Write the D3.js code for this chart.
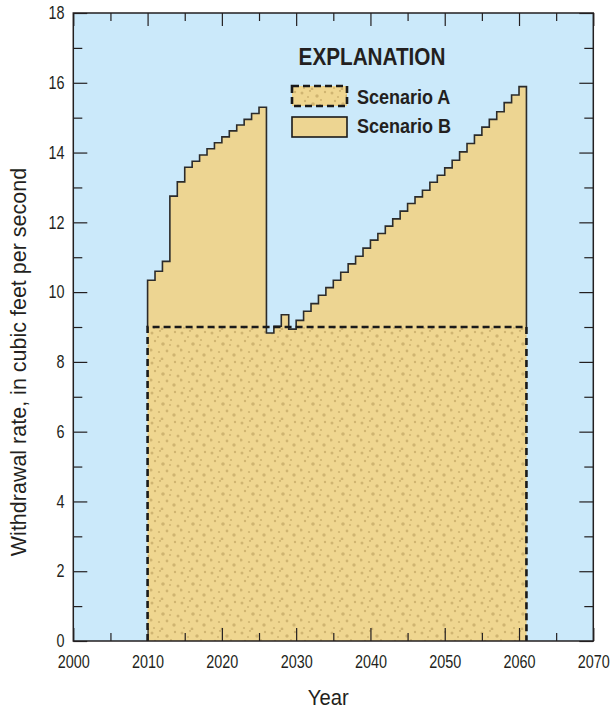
<!DOCTYPE html>
<html>
<head>
<meta charset="utf-8">
<script src="https://cdn.jsdelivr.net/npm/d3@7"></script>
<style>
  body { margin: 0; background: #fff; }
  text { font-family: "Liberation Sans", Arial, sans-serif; fill: #231f20; }
</style>
</head>
<body>
<div class="WithdrawalPlot"></div>
<script>
// scenario B: withdrawal rate for each year (step starts at that year)
const yearsB = d3.range(2010, 2061)
const scenarioB = [
  10.34, 10.6, 10.88, 12.75, 13.16, 13.58, 13.75, 13.93, 14.11, 14.28,
  14.45, 14.62, 14.79, 14.95, 15.12, 15.3,
  8.83, 9.02, 9.35, 8.94, 9.19,
  9.45, 9.67, 9.91, 10.13, 10.34, 10.57, 10.81, 11.03, 11.26, 11.49,
  11.68, 11.89, 12.1, 12.32, 12.54, 12.73, 12.92, 13.15, 13.35, 13.56,
  13.78, 14.02, 14.26, 14.5, 14.73, 14.95, 15.17, 15.43, 15.65, 15.89
]
const endYear = 2061
// scenario A: constant rate
const yearsA = [2010, 2061]
const scenarioA = [9, 9]

const xMajor = [2000, 2010, 2020, 2030, 2040, 2050, 2060, 2070]
const xMinor = [2005, 2015, 2025, 2035, 2045, 2055, 2065]
const yMajor = [0, 2, 4, 6, 8, 10, 12, 14, 16, 18]
const yMinor = [1, 3, 5, 7, 9, 11, 13, 15, 17]
const legendLabels = ["Scenario A", "Scenario B"]

const width = 612
const height = 712
const margin = ({top: 13, right: 18.7, bottom: 71, left: 73.3})

const x = d3.scaleLinear()
  .domain([2000, 2070])
  .range([margin.left, width - margin.right])
const y = d3.scaleLinear()
  .domain([0, 18])
  .range([height - margin.bottom, margin.top])

const sky = "#cbe9fa"
const tan = "#edd592"
const narrow = 0.8 // squeeze text, no condensed font available

const svg = d3.select(".WithdrawalPlot").append("svg")
  .attr("width", width)
  .attr("height", height)
  .attr("viewBox", [0, 0, width, height])

// stipple texture for scenario A
const defs = svg.append("defs")
const pat = defs.append("pattern")
  .attr("id", "stipple")
  .attr("patternUnits", "userSpaceOnUse")
  .attr("width", 30).attr("height", 30)
pat.append("rect").attr("width", 30).attr("height", 30).attr("fill", "#efd690")
const dots = [[2,3,1.5],[10,1,1.1],[17,6,1.7],[25,2,1.2],[5,11,1.2],[13,14,1.8],[21,10,1.1],[28,16,1.5],
  [1,20,1.6],[9,22,1.1],[17,21,1.4],[24,25,1.7],[4,28,1.1],[12,29,1.4],[20,15,1.0],[8,7,1.0]]
pat.selectAll("circle").data(dots).join("circle")
  .attr("cx", d => d[0]).attr("cy", d => d[1]).attr("r", d => d[2])
  .attr("fill", "#b09252").attr("opacity", 0.5)

// background
svg.append("rect")
  .attr("x", x(2000)).attr("y", y(18))
  .attr("width", x(2070) - x(2000)).attr("height", y(0) - y(18))
  .attr("fill", sky)

const pointsB = yearsB.map((d, i) => [d, scenarioB[i]]).concat([[endYear, scenarioB[scenarioB.length - 1]]])

const areaB = d3.area()
  .curve(d3.curveStepAfter)
  .x(d => x(d[0]))
  .y0(y(0))
  .y1(d => y(d[1]))

defs.append("clipPath").attr("id", "clipB")
  .append("path").attr("d", areaB(pointsB))

svg.append("path")
  .attr("d", areaB(pointsB))
  .attr("fill", tan)

// scenario A stippled area, hidden where B dips under it
const pointsA = yearsA.map((d, i) => [d, scenarioA[i]])
svg.append("path")
  .attr("d", areaB(pointsA))
  .attr("fill", "url(#stipple)")
  .attr("clip-path", "url(#clipB)")

// outline of B above A
const base = scenarioA[0]
const lineB = d3.line().curve(d3.curveStepAfter).x(d => x(d[0])).y(d => y(d[1]))
svg.append("path")
  .attr("d", lineB([[yearsB[0], base]].concat(pointsB, [[endYear, base]])))
  .attr("fill", "none")
  .attr("stroke", "#2b2b2b")
  .attr("stroke-width", 1.6)

// dashed outline of A
svg.append("path")
  .attr("d", lineB([[yearsA[0], 0]].concat(pointsA, [[yearsA[1], 0]])))
  .attr("fill", "none")
  .attr("stroke", "#1a1a1a")
  .attr("stroke-width", 2.6)
  .attr("stroke-dasharray", "7,4")

// axes, ticks pointing inward
const axisStyle = g => g.call(g => g.select(".domain").remove())
  .attr("font-size", 18)
  .style("font-size", "18px")
  .attr("font-family", null)
  .call(g => g.selectAll("line").attr("stroke", "#231f20").attr("stroke-width", 1.2))
  .call(g => g.selectAll("text").attr("fill", "#231f20")
    .attr("transform", `scale(${narrow},1)`))

svg.append("g")
  .attr("transform", `translate(0,${y(0)})`)
  .call(d3.axisBottom(x).tickValues(xMajor).tickSize(-13).tickPadding(14).tickFormat(d3.format("d")))
  .call(axisStyle)
svg.append("g")
  .attr("transform", `translate(0,${y(0)})`)
  .call(d3.axisBottom(x).tickValues(xMinor).tickSize(-8).tickFormat(""))
  .call(axisStyle)
svg.append("g")
  .attr("transform", `translate(0,${y(18)})`)
  .call(d3.axisTop(x).tickValues(xMajor).tickSize(-13).tickFormat(""))
  .call(axisStyle)
svg.append("g")
  .attr("transform", `translate(0,${y(18)})`)
  .call(d3.axisTop(x).tickValues(xMinor).tickSize(-8).tickFormat(""))
  .call(axisStyle)

svg.append("g")
  .attr("transform", `translate(${x(2000)},0)`)
  .call(d3.axisLeft(y).tickValues(yMajor).tickSize(-14).tickPadding(11))
  .call(axisStyle)
svg.append("g")
  .attr("transform", `translate(${x(2000)},0)`)
  .call(d3.axisLeft(y).tickValues(yMinor).tickSize(-9).tickFormat(""))
  .call(axisStyle)
svg.append("g")
  .attr("transform", `translate(${x(2070)},0)`)
  .call(d3.axisRight(y).tickValues(yMajor).tickSize(-14).tickFormat(""))
  .call(axisStyle)
svg.append("g")
  .attr("transform", `translate(${x(2070)},0)`)
  .call(d3.axisRight(y).tickValues(yMinor).tickSize(-9).tickFormat(""))
  .call(axisStyle)

// frame
svg.append("rect")
  .attr("x", x(2000)).attr("y", y(18))
  .attr("width", x(2070) - x(2000)).attr("height", y(0) - y(18))
  .attr("fill", "none")
  .attr("stroke", "#231f20")
  .attr("stroke-width", 1.5)

// axis titles
svg.append("text")
  .attr("text-anchor", "middle")
  .attr("transform", `translate(${(x(2000) + x(2070)) / 2 - 5},705)scale(0.92,1)`)
  .attr("font-size", 22)
  .text("Year")

svg.append("text")
  .attr("text-anchor", "middle")
  .attr("transform", "translate(26,362)rotate(-90)")
  .attr("font-size", 21.5)
  .text("Withdrawal rate, in cubic feet per second")

// legend
const legend = svg.append("g")
legend.append("text")
  .attr("transform", "translate(372,65)scale(0.9,1)")
  .attr("text-anchor", "middle")
  .attr("font-size", 23)
  .attr("font-weight", "bold")
  .text("EXPLANATION")

legend.selectAll("rect.sw").data(legendLabels).join("rect")
  .attr("class", "sw")
  .attr("x", 292).attr("y", (d, i) => 86 + i * 31)
  .attr("width", 55).attr("height", 20)
  .attr("fill", (d, i) => i === 0 ? "url(#stipple)" : tan)
  .attr("stroke", "#1a1a1a")
  .attr("stroke-width", (d, i) => i === 0 ? 2.6 : 1.6)
  .attr("stroke-dasharray", (d, i) => i === 0 ? "7,4" : null)

legend.selectAll("text.lab").data(legendLabels).join("text")
  .attr("class", "lab")
  .attr("transform", (d, i) => `translate(357,${104 + i * 29})scale(0.9,1)`)
  .attr("font-size", 20)
  .attr("font-weight", "bold")
  .text(d => d)
</script>
</body>
</html>
